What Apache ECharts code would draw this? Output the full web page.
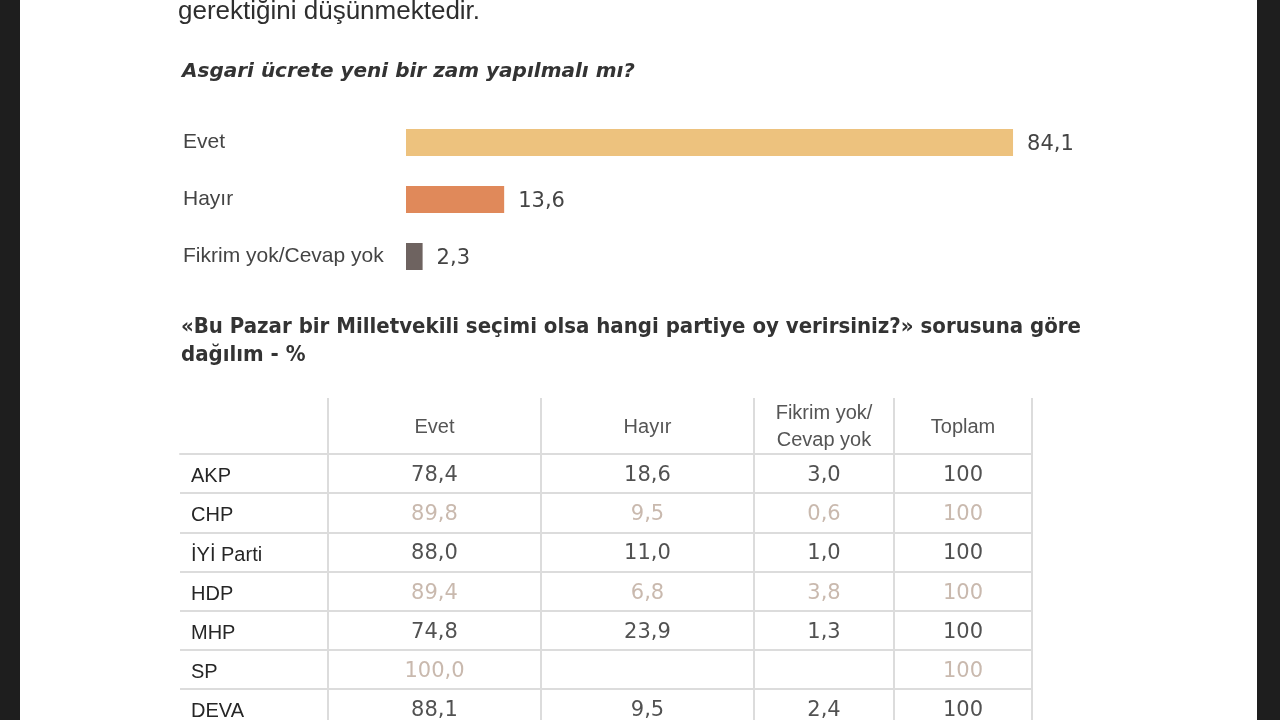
<!DOCTYPE html>
<html>
<head>
<meta charset="utf-8">
<script src="https://cdn.jsdelivr.net/npm/echarts@6/dist/echarts.min.js"></script>
<style>
html,body{margin:0;padding:0;background:#fff;}
#c{width:1280px;height:720px;}
</style>
</head>
<body>
<div id="c"></div>
<script>
// ---- data ----
const barCategories = ['Evet', 'Hayır', 'Fikrim yok/Cevap yok'];
const barValues = [84.1, 13.6, 2.3];

const parties = ['AKP', 'CHP', 'İYİ Parti', 'HDP', 'MHP', 'SP', 'DEVA'];
const columnHeaders = ['Evet', 'Hayır', 'Fikrim yok/\nCevap yok', 'Toplam'];
const evetValues = [78.4, 89.8, 88.0, 89.4, 74.8, 100.0, 88.1];
const hayirValues = [18.6, 9.5, 11.0, 6.8, 23.9, null, 9.5];
const fikrimValues = [3.0, 0.6, 1.0, 3.8, 1.3, null, 2.4];
const toplamValues = [100, 100, 100, 100, 100, 100, 100];

const introText = 'gerektiğini düşünmektedir.';
const chartTitle = 'Asgari ücrete yeni bir zam yapılmalı mı?';
const tableTitle = '«Bu Pazar bir Milletvekili seçimi olsa hangi partiye oy verirsiniz?» sorusuna göre\ndağılım - %';

// ---- styling / layout ----
const barColors = ['#EDC27E', '#E0895A', '#6E6360'];
const lineColor = '#dcdcdc';
const darkText = '#262626';
const lightText = '#bca89a';
const sansFont = "'Liberation Sans', Arial, sans-serif";
const numFont = "'DejaVu Sans', sans-serif";
const colLayout = [
  {left: 328, width: 213},
  {left: 541, width: 213},
  {left: 754, width: 140},
  {left: 894, width: 138}
];
const colDecimals = [1, 1, 1, 0];
const columnValues = [evetValues, hayirValues, fikrimValues, toplamValues];
const tableTop = 454, rowH = 39.2;

function fmt(v, d) { return v.toFixed(d).replace('.', ','); }

const grids = [{left: 406, top: 114, width: 721.8, height: 171, outerBoundsMode: 'none'}];
grids.push({left: 180, top: tableTop, width: 148, height: rowH * parties.length, outerBoundsMode: 'none'});
colLayout.forEach(c => grids.push({left: c.left, top: tableTop, width: c.width,
  height: rowH * parties.length, outerBoundsMode: 'none'}));

const lineStyle = {color: lineColor, width: 2};

const xAxes = [
  {type: 'value', gridIndex: 0, min: 0, max: 100, show: false},
  {type: 'category', gridIndex: 1, data: [''], position: 'top',
   axisLine: {show: true, lineStyle: lineStyle}, axisTick: {show: false}, axisLabel: {show: false}}
];
columnHeaders.forEach((h, i) => xAxes.push({
  type: 'category', gridIndex: 2 + i, data: [h], position: 'top',
  axisLine: {show: true, lineStyle: lineStyle},
  axisTick: {show: true, length: 56, lineStyle: lineStyle},
  axisLabel: {margin: 27, verticalAlign: 'middle', fontSize: 20, lineHeight: 27,
    color: '#555', fontFamily: sansFont, align: 'center'}
}));

const yAxes = [
  {type: 'category', gridIndex: 0, data: barCategories, inverse: true,
   axisLine: {show: false}, axisTick: {show: false},
   axisLabel: {align: 'left', margin: 223, fontSize: 21, color: '#444', fontFamily: sansFont}},
  {type: 'category', gridIndex: 1, data: parties, inverse: true,
   axisLine: {show: false}, axisTick: {show: false},
   axisLabel: {inside: true, align: 'left', margin: 11,
     formatter: v => '{p|' + v + '}',
     rich: {p: {fontSize: 20, color: darkText, fontFamily: sansFont, padding: [6, 0, 0, 0]}}},
   splitLine: {show: true, interval: 0, lineStyle: lineStyle}},
  {type: 'category', gridIndex: 1, data: parties, inverse: true, position: 'right',
   axisLine: {show: true, lineStyle: lineStyle}, axisTick: {show: false}, axisLabel: {show: false}}
];
colLayout.forEach((c, i) => yAxes.push({
  type: 'category', gridIndex: 2 + i, data: parties, inverse: true, position: 'right',
  axisLine: {show: true, lineStyle: lineStyle}, axisTick: {show: false}, axisLabel: {show: false},
  splitLine: {show: true, interval: 0, lineStyle: lineStyle}
}));

const series = [{
  type: 'bar', xAxisIndex: 0, yAxisIndex: 0, barWidth: 27,
  data: barValues.map((v, i) => ({value: v, itemStyle: {color: barColors[i]}})),
  label: {show: true, position: 'right', distance: 14, offset: [0, 2], fontSize: 21, color: '#444',
    fontFamily: numFont, formatter: p => fmt(p.value, 1)},
  silent: true
}];
columnValues.forEach((vals, i) => {
  const data = [];
  vals.forEach((v, r) => {
    if (v == null) return;
    data.push({value: [0, r, v], label: {color: r % 2 ? lightText : darkText}});
  });
  series.push({
    type: 'scatter', xAxisIndex: 2 + i, yAxisIndex: 3 + i,
    symbolSize: 1, itemStyle: {color: 'rgba(0,0,0,0)'},
    data: data, silent: true,
    label: {show: true, position: 'inside', offset: [0, 2], fontSize: 21, fontFamily: numFont,
      formatter: p => fmt(p.value[2], colDecimals[i])}
  });
});

const option = {
  backgroundColor: '#ffffff',
  animation: false,
  grid: grids,
  xAxis: xAxes,
  yAxis: yAxes,
  series: series,
  graphic: [
    {type: 'text', x: 178, y: 12, style: {text: introText, fill: '#2e2e2e',
      font: "26px 'Liberation Sans', Arial, sans-serif", verticalAlign: 'middle'}},
    {type: 'text', x: 182, y: 72, style: {text: chartTitle, fill: '#333',
      font: "italic bold 20px 'DejaVu Sans', sans-serif", verticalAlign: 'middle'}},
    {type: 'text', x: 181, y: 313, style: {text: tableTitle, fill: '#333', lineHeight: 28,
      font: "bold 22px 'Liberation Sans Narrow', 'DejaVu Sans Condensed', sans-serif", verticalAlign: 'top'}},
    {type: 'rect', shape: {x: 0, y: 0, width: 20, height: 720}, style: {fill: '#1e1e1e'}, z: 100},
    {type: 'rect', shape: {x: 1257, y: 0, width: 23, height: 720}, style: {fill: '#1e1e1e'}, z: 100}
  ]
};

const chart = echarts.init(document.getElementById('c'));
chart.setOption(option);
</script>
</body>
</html>
